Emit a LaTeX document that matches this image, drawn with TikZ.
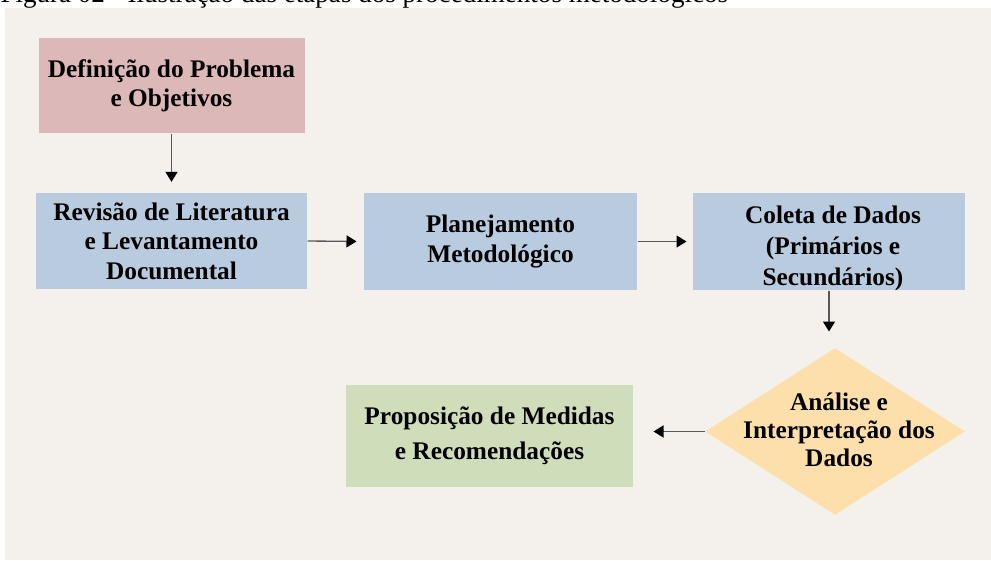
\documentclass[tikz,border=0pt]{standalone}
\usepackage{fontspec}
\setmainfont{Liberation Serif}
\usetikzlibrary{shapes.geometric,arrows.meta}
\definecolor{fundo}{HTML}{F4F1EC}
\definecolor{rosa}{HTML}{DDB8B8}
\definecolor{azul}{HTML}{B9CBDF}
\definecolor{verde}{HTML}{CFDDBB}
\definecolor{laranja}{HTML}{FDDFAC}
\tikzset{every picture/.style={line width=0.75pt}}

\begin{document}
\begin{tikzpicture}[x=0.75pt,y=0.75pt,yscale=-1,xscale=1,
  etapa/.style={inner sep=0pt, align=center, font=\bfseries\fontsize{19}{22}\selectfont},
  seta/.style={draw=black!65, line width=1pt, -{Triangle[length=7.5pt,width=9pt,black]}}]
\useasboundingbox (0,0) rectangle (991,560);
\fill[fundo] (5,8) rectangle (991,560);
\node (legenda) [anchor=base west, inner sep=0pt, font=\fontsize{20.3}{22}\selectfont] at (0,3) {Figura 02 - Ilustração das etapas dos procedimentos metodológicos};

% etapas
\node (problema) [etapa, fill=rosa, minimum width=199.5pt, minimum height=71.25pt] at (171.5,85.5) {Definição do Problema\\e Objetivos};
\node (revisao) [etapa, fill=azul, minimum width=203.25pt, minimum height=72pt] at (171.5,241) {Revisão de Literatura\\e Levantamento\\Documental};
\node (planej) [etapa, fill=azul, minimum width=204.75pt, minimum height=72.75pt] at (500.5,241.5) {Planejamento\\Metodológico};
\node (coleta) [etapa, fill=azul, minimum width=204pt, minimum height=72.75pt] at (829,241.5) {};
\node (coletatxt) [etapa, font=\bfseries\fontsize{19}{23.25}\selectfont] at (833,248) {Coleta de Dados\\(Primários e\\Secundários)};
\node (analise) [diamond, fill=laranja, inner sep=0pt, minimum width=195pt, minimum height=125.25pt] at (835,431.5) {};
\node (analisetxt) [etapa, font=\bfseries\fontsize{19}{21}\selectfont] at (839,430) {Análise e\\Interpretação dos\\Dados};
\node (propos) [etapa, fill=verde, minimum width=215.25pt, minimum height=76.5pt, font=\bfseries\fontsize{19}{26}\selectfont] at (489.5,436) {Proposição de Medidas\\e Recomendações};

% setas
\draw [seta, shorten >=8pt] (problema.south) -- (revisao.north);
\draw [seta, shorten >=5.25pt] (revisao.east) -- (planej.west);
\draw [seta, shorten >=4.5pt] (planej.east) -- (coleta.west);
\draw [seta, shorten >=12pt] (coleta.south) -- (coleta.south |- analise.north);
\draw [seta, shorten >=15pt] (analise.west) -- (analise.west -| propos.east);
\end{tikzpicture}
\end{document}
